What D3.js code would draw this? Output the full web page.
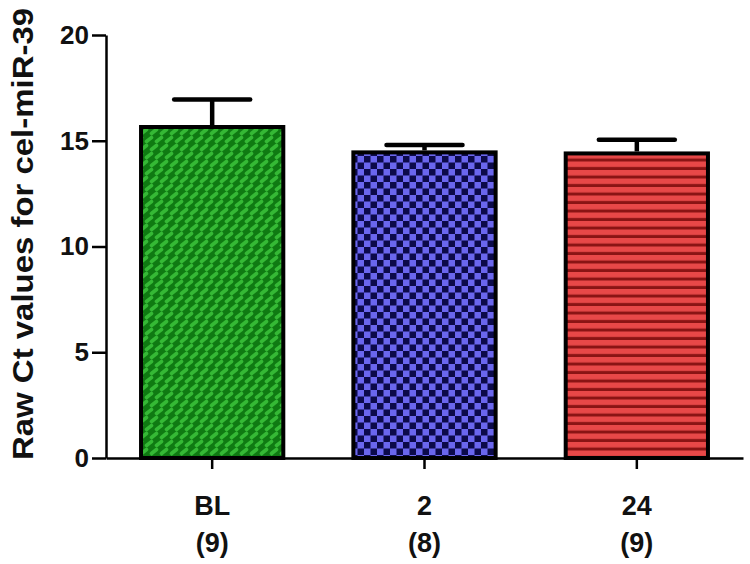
<!DOCTYPE html>
<html><head><meta charset="utf-8">
<script src="https://cdn.jsdelivr.net/npm/d3@7"></script>
<style>body{margin:0;background:#fff}svg{display:block}text{font-family:"Liberation Sans",Arial,sans-serif;font-weight:bold;fill:#111}</style>
</head><body>
<svg id="c" width="750" height="564"></svg>
<script>
const categories = ["BL", "2", "24"];
const counts = ["(9)", "(8)", "(9)"];
const means = [15.65, 14.45, 14.4];
const sems = [1.3, 0.35, 0.65];
const yTicks = [0, 5, 10, 15, 20];
const yLabel = "Raw Ct values for cel-miR-39";

const svg = d3.select("#c");
const defs = svg.append("defs");

// green oblique dash pattern
const pg = defs.append("pattern").attr("id","pg").attr("patternUnits","userSpaceOnUse").attr("width",10).attr("height",16);
pg.append("rect").attr("width",10).attr("height",16).attr("fill","#0f7a12");
[[0,0],[5,8],[-5,8],[10,0],[0,16],[10,16]].forEach(([dx,dy])=>{
  pg.append("line").attr("x1",dx+1.5).attr("y1",dy+5.5).attr("x2",dx+6.5).attr("y2",dy+1.5)
    .attr("stroke","#35b935").attr("stroke-width",3.6).attr("stroke-linecap","round");
});
// blue checker pattern
const pb = defs.append("pattern").attr("id","pb").attr("patternUnits","userSpaceOnUse").attr("width",13).attr("height",13);
pb.append("rect").attr("width",13).attr("height",13).attr("fill","#6a66ee");
pb.append("rect").attr("width",6.5).attr("height",6.5).attr("fill","#0c0a4a");
pb.append("rect").attr("x",6.5).attr("y",6.5).attr("width",6.5).attr("height",6.5).attr("fill","#0c0a4a");
// red horizontal stripes
const pr = defs.append("pattern").attr("id","pr").attr("patternUnits","userSpaceOnUse").attr("width",10).attr("height",8.5);
pr.append("rect").attr("width",10).attr("height",8.5).attr("fill","#e84848");
pr.append("rect").attr("y",5.5).attr("width",10).attr("height",3).attr("fill","#8a1414");
const fills = ["url(#pg)","url(#pb)","url(#pr)"];

const x = d3.scaleBand().domain(categories).range([106, 743]).paddingInner(0.33).paddingOuter(0.165);
const y = d3.scaleLinear().domain([0, 20]).range([458, 35]);

// bars
svg.selectAll("rect.bar").data(categories).join("rect").attr("class","bar")
  .attr("x", d => x(d)).attr("width", x.bandwidth())
  .attr("y", (d,i) => y(means[i])).attr("height", (d,i) => y(0) - y(means[i]))
  .attr("fill", (d,i) => fills[i]).attr("stroke","#000").attr("stroke-width",4);

// error bars
const capW = 76;
categories.forEach((d,i) => {
  const cx = x(d) + x.bandwidth()/2;
  svg.append("line").attr("x1",cx).attr("x2",cx).attr("y1",y(means[i])-2).attr("y2",y(means[i]+sems[i]))
    .attr("stroke","#000").attr("stroke-width",4.5);
  svg.append("line").attr("x1",cx-capW/2).attr("x2",cx+capW/2).attr("y1",y(means[i]+sems[i])).attr("y2",y(means[i]+sems[i]))
    .attr("stroke","#000").attr("stroke-width",4.5).attr("stroke-linecap","round");
});

// y axis
const yAx = svg.append("g").attr("transform","translate(106,0)")
  .call(d3.axisLeft(y).tickValues(yTicks).tickSize(14).tickPadding(3).tickSizeOuter(0));
yAx.select(".domain").attr("stroke","#000").attr("stroke-width",2.5);
yAx.selectAll(".tick line").attr("stroke","#000").attr("stroke-width",2.5);
yAx.selectAll(".tick text").attr("font-size",26).attr("font-family","Liberation Sans, Arial, sans-serif").attr("font-weight","bold").attr("fill","#111");

// x axis
const xAx = svg.append("g").attr("transform","translate(0,458)")
  .call(d3.axisBottom(x).tickSize(11).tickSizeOuter(0).tickFormat(""));
xAx.select(".domain").attr("stroke","#000").attr("stroke-width",2.5);
xAx.selectAll(".tick line").attr("stroke","#000").attr("stroke-width",2.5);

categories.forEach((d,i) => {
  const cx = x(d) + x.bandwidth()/2;
  svg.append("text").attr("x",cx).attr("y",515).attr("text-anchor","middle").attr("font-size",27).text(d);
  svg.append("text").attr("x",cx).attr("y",552).attr("text-anchor","middle").attr("font-size",27).text(counts[i]);
});

svg.append("text").attr("transform","translate(33,234) rotate(-90)").attr("text-anchor","middle")
  .attr("font-size",30).attr("textLength",452).attr("lengthAdjust","spacingAndGlyphs").text(yLabel);
</script>
</body></html>
